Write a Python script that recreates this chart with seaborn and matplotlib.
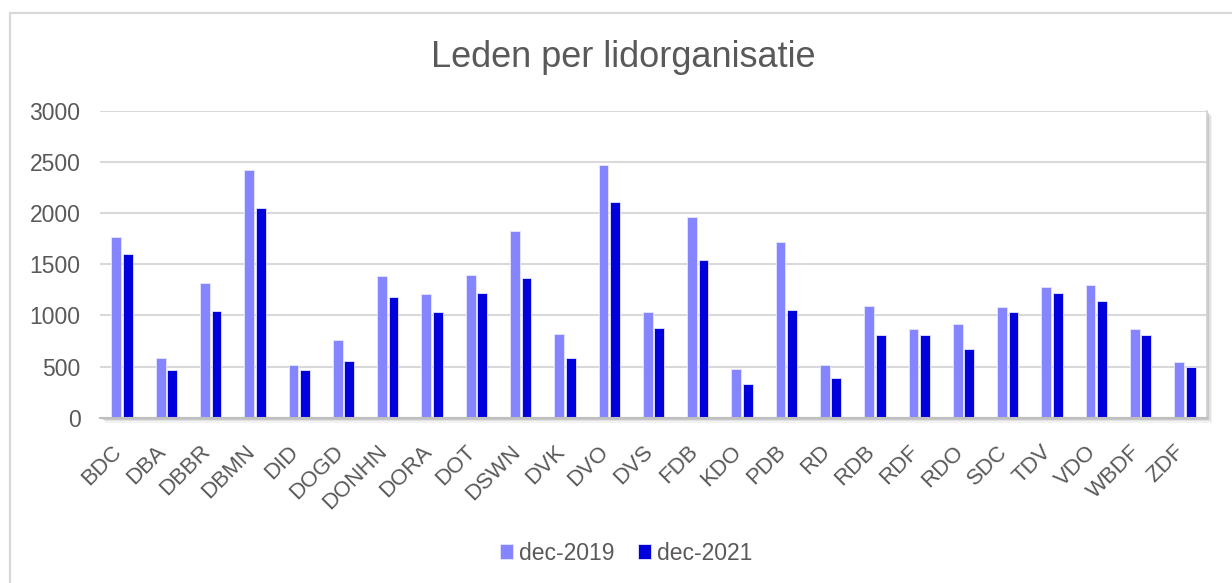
import pandas as pd
import matplotlib.pyplot as plt
import matplotlib.transforms as mtransforms
import seaborn as sns
from matplotlib.patches import Rectangle

# -----------------------------
# Data
# -----------------------------
organisaties = ["BDC", "DBA", "DBBR", "DBMN", "DID", "DOGD", "DONHN", "DORA", "DOT",
                "DSWN", "DVK", "DVO", "DVS", "FDB", "KDO", "PDB", "RD", "RDB", "RDF",
                "RDO", "SDC", "TDV", "VDO", "WBDF", "ZDF"]
leden_2019 = [1770, 580, 1320, 2420, 515, 756, 1381, 1205, 1394,
              1821, 815, 2472, 1030, 1958, 479, 1720, 515, 1091, 867,
              918, 1078, 1280, 1293, 867, 541]
leden_2021 = [1600, 468, 1042, 2046, 468, 554, 1182, 1030, 1218,
              1368, 580, 2110, 879, 1544, 326, 1055, 391, 805, 805,
              668, 1030, 1218, 1143, 805, 492]
periodes = ["dec-2019", "dec-2021"]
yticks = [0, 500, 1000, 1500, 2000, 2500, 3000]

df = pd.DataFrame({
    "Lidorganisatie": organisaties * 2,
    "Periode": [periodes[0]] * len(organisaties) + [periodes[1]] * len(organisaties),
    "Leden": leden_2019 + leden_2021,
})

# -----------------------------
# Style
# -----------------------------
sns.set_theme(style="white")
plt.rcParams['font.family'] = ['Liberation Sans', 'DejaVu Sans']
text_grey = "#595959"
grid_grey = "#D9D9D9"

W, H = 1232, 583
fig = plt.figure(figsize=(W / 100, H / 100), dpi=100)
fig.patch.set_facecolor("white")

# plot area in pixel coordinates
left, right, top, bottom = 100, 1207, 110.7, 417.7
ax = fig.add_axes([left / W, 1 - bottom / H, (right - left) / W, (bottom - top) / H], zorder=2)

# outer chart border
fig.add_artist(Rectangle((10 / W, -0.1), 1.2, 1 - 13 / H + 0.1, transform=fig.transFigure,
                         facecolor="none", edgecolor=grid_grey, lw=1.6, zorder=0))
# soft shadow of the plot area
for off, a in [(5, 0.10), (3.5, 0.15), (2, 0.25)]:
    fig.add_artist(Rectangle(((left + off) / W, 1 - (bottom + off) / H),
                             (right - left) / W, (bottom - top) / H,
                             transform=fig.transFigure, facecolor="#808080",
                             edgecolor="none", alpha=a, zorder=1))

sns.barplot(data=df, x="Lidorganisatie", y="Leden", hue="Periode", ax=ax,
            palette={periodes[0]: "#8585FF", periodes[1]: "#0000DC"}, saturation=1,
            width=0.52, gap=0.15, edgecolor="#E6E6FF", linewidth=0.6)

ax.set_facecolor("white")
ax.set_ylim(0, 3000)
ax.set_xlim(-0.5, len(organisaties) - 0.5)
ax.set_yticks(yticks)
ax.yaxis.grid(True, color=grid_grey, lw=1.5)
ax.set_axisbelow(True)
ax.set_xlabel("")
ax.set_ylabel("")
for s in ["left", "top"]:
    ax.spines[s].set_visible(False)
ax.spines["bottom"].set_color("#BFBFBF")
ax.spines["bottom"].set_linewidth(1.5)
ax.spines["right"].set_color("#D0D0D0")
ax.spines["right"].set_linewidth(1.2)

ax.tick_params(axis="y", length=0, pad=14, labelsize=16.5, labelcolor=text_grey)
ax.tick_params(axis="x", length=0, pad=17, labelsize=16, labelcolor=text_grey)
shift = mtransforms.ScaledTranslation(4 / 100, 0, fig.dpi_scale_trans)
for lbl in ax.get_xticklabels():
    lbl.set_rotation(45)
    lbl.set_ha("right")
    lbl.set_va("top")
    lbl.set_transform(lbl.get_transform() + shift)

# title
fig.text(623 / W, 1 - 66.7 / H, "Leden per lidorganisatie", ha="center", va="baseline",
         fontsize=26, color=text_grey)

# legend below the chart
handles, labels = ax.get_legend_handles_labels()
ax.get_legend().remove()
fig.legend(handles, labels, loc="center", bbox_to_anchor=(626 / W, 1 - 553 / H),
           ncol=2, frameon=False, fontsize=16.5, labelcolor=text_grey,
           handlelength=0.6, handleheight=0.6, handletextpad=0.25, columnspacing=1.0)

fig.savefig("out.png", dpi=100)
